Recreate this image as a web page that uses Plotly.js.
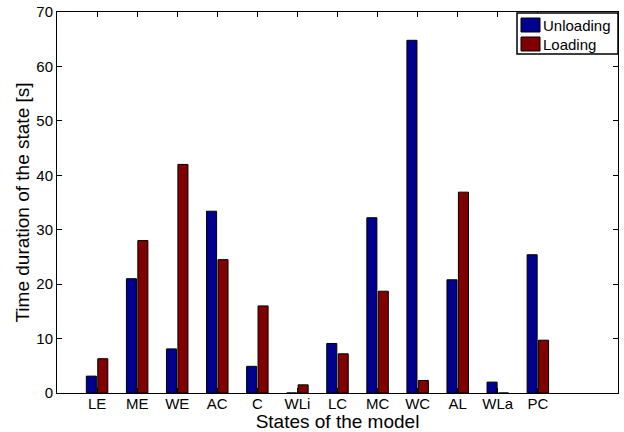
<!DOCTYPE html>
<html>
<head>
<meta charset="utf-8">
<script src="https://cdn.plot.ly/plotly-3.0.1.min.js"></script>
<style>html,body{margin:0;padding:0;background:#fff;}#chart{width:624px;height:432px;}</style>
</head>
<body>
<div id="chart"></div>
<script>
const categories = ["LE","ME","WE","AC","C","WLi","LC","MC","WC","AL","WLa","PC"];
const unloading = [3.1, 21.0, 8.1, 33.4, 4.9, 0.0, 9.1, 32.2, 64.8, 20.8, 2.0, 25.4];
const loading   = [6.3, 28.0, 42.0, 24.5, 16.0, 1.5, 7.2, 18.7, 2.3, 36.9, 0.0, 9.7];
const seriesNames = ["Unloading", "Loading"];
const seriesColors = ["#00008F", "#800000"];
const yTicks = [0,10,20,30,40,50,60,70];

const font = "Liberation Sans, Arial, Helvetica, sans-serif";
const traces = [
  {type:"bar", name:seriesNames[0], x:categories, y:unloading, showlegend:false,
   marker:{color:seriesColors[0], line:{color:"#000", width:1}}},
  {type:"bar", name:seriesNames[1], x:categories, y:loading, showlegend:false,
   marker:{color:seriesColors[1], line:{color:"#000", width:1}}}
];

// custom legend box (plot area: x 57..618 px, y 12..393 px)
const L = 57, W = 561, T = 12, H = 381;
const px = v => (v - L) / W;
const py = v => (T + H - v) / H;
const shapes = [
  {type:"rect", xref:"paper", yref:"paper", x0:px(517), x1:px(618), y0:py(54), y1:py(13),
   fillcolor:"#fff", line:{color:"#000", width:1.5}, layer:"above"}
];
const annotations = [];
seriesNames.forEach((n, i) => {
  const top = 18 + i * 19;
  shapes.push({type:"rect", xref:"paper", yref:"paper", x0:px(521), x1:px(540),
    y0:py(top + 14), y1:py(top), fillcolor:seriesColors[i], line:{color:"#000", width:1}, layer:"above"});
  annotations.push({xref:"paper", yref:"paper", x:px(541), y:py(top + 7), text:n,
    showarrow:false, xanchor:"left", yanchor:"middle", font:{family:font, size:15, color:"#000"}});
});

const layout = {
  width:624, height:432,
  margin:{l:57, r:6, t:12, b:39, pad:0},
  paper_bgcolor:"#fff", plot_bgcolor:"#fff",
  font:{family:font, size:15, color:"#000"},
  barmode:"group", bargap:0.43, bargroupgap:0.12,
  showlegend:false,
  shapes:shapes, annotations:annotations,
  xaxis:{type:"category", range:[-1,13], showline:true, mirror:"ticks",
         linecolor:"#000", linewidth:1, ticks:"inside", ticklen:5, tickcolor:"#000",
         ticklabelstandoff:-3,
         showgrid:false, zeroline:false, tickfont:{family:font, size:15},
         title:{text:"States of the model", font:{family:font, size:19}, standoff:0},
         automargin:false},
  yaxis:{range:[0,70], tickvals:yTicks, showline:true, mirror:"ticks",
         linecolor:"#000", linewidth:1, ticks:"inside", ticklen:5, tickcolor:"#000",
         showgrid:false, zeroline:false, tickfont:{family:font, size:15},
         title:{text:"Time duration of the state [s]", font:{family:font, size:19}, standoff:1},
         automargin:false}
};
Plotly.newPlot("chart", traces, layout, {staticPlot:true, displayModeBar:false});
</script>
</body>
</html>
